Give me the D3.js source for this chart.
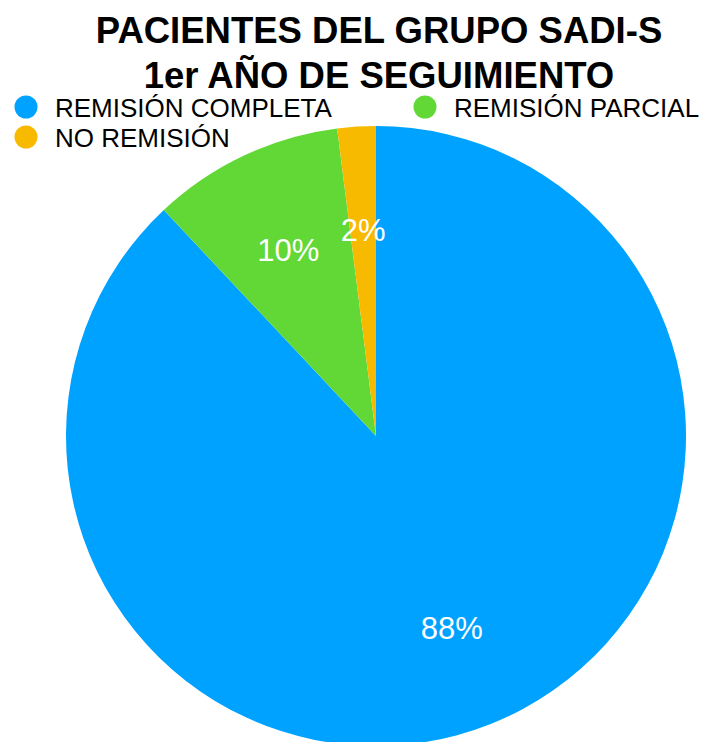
<!DOCTYPE html>
<html>
<head>
<meta charset="utf-8">
<script src="https://cdn.jsdelivr.net/npm/d3@7"></script>
<style>
  html, body { margin: 0; padding: 0; background: #fff; overflow: hidden; }
  svg { display: block; }
</style>
</head>
<body>
<svg id="chart" width="704" height="742"></svg>
<script>
// Outcome groups, their share (%) and colours
const categories = ["REMISIÓN COMPLETA", "REMISIÓN PARCIAL", "NO REMISIÓN"];
const values = [88, 10, 2];
const colors = ["#00A2FF", "#61D836", "#F8BA00"];
const titleLines = ["PACIENTES DEL GRUPO SADI-S", "1er AÑO DE SEGUIMIENTO"];

const svg = d3.select("#chart");

// Title
svg.append("g").selectAll("text")
  .data(titleLines)
  .join("text")
  .attr("x", 379)
  .attr("y", (d, i) => 43 + i * 45)
  .attr("text-anchor", "middle")
  .attr("font-family", "Liberation Sans, Arial, sans-serif")
  .attr("font-weight", "bold")
  .attr("font-size", 36.5)
  .attr("fill", "#000")
  .text(d => d);

// Legend: two columns, wrapping to a second row
const legendPos = [[26, 107], [425, 107], [26, 137]];
const legend = svg.append("g").selectAll("g")
  .data(categories)
  .join("g")
  .attr("transform", (d, i) => `translate(${legendPos[i][0]},${legendPos[i][1]})`);
legend.append("circle")
  .attr("r", 11.5)
  .attr("fill", (d, i) => colors[i]);
legend.append("text")
  .attr("x", 29)
  .attr("y", 10)
  .attr("font-family", "Liberation Sans, Arial, sans-serif")
  .attr("font-size", 26)
  .attr("fill", "#000")
  .text(d => d);

// Pie
const cx = 376, cy = 436, R = 310;
const pie = d3.pie().sort(null).value(d => d);
const arcs = pie(values);
const arc = d3.arc().innerRadius(0).outerRadius(R);
const labelArc = d3.arc().innerRadius(R * 0.665).outerRadius(R * 0.665);

const g = svg.append("g").attr("transform", `translate(${cx},${cy})`);
g.selectAll("path")
  .data(arcs)
  .join("path")
  .attr("d", arc)
  .attr("fill", (d, i) => colors[i]);

g.selectAll("text")
  .data(arcs)
  .join("text")
  .attr("transform", d => `translate(${labelArc.centroid(d)})`)
  .attr("text-anchor", "middle")
  .attr("dy", "0.36em")
  .attr("font-family", "Liberation Sans, Arial, sans-serif")
  .attr("font-size", 31)
  .attr("fill", "#fff")
  .text(d => d.data + "%");
</script>
</body>
</html>
